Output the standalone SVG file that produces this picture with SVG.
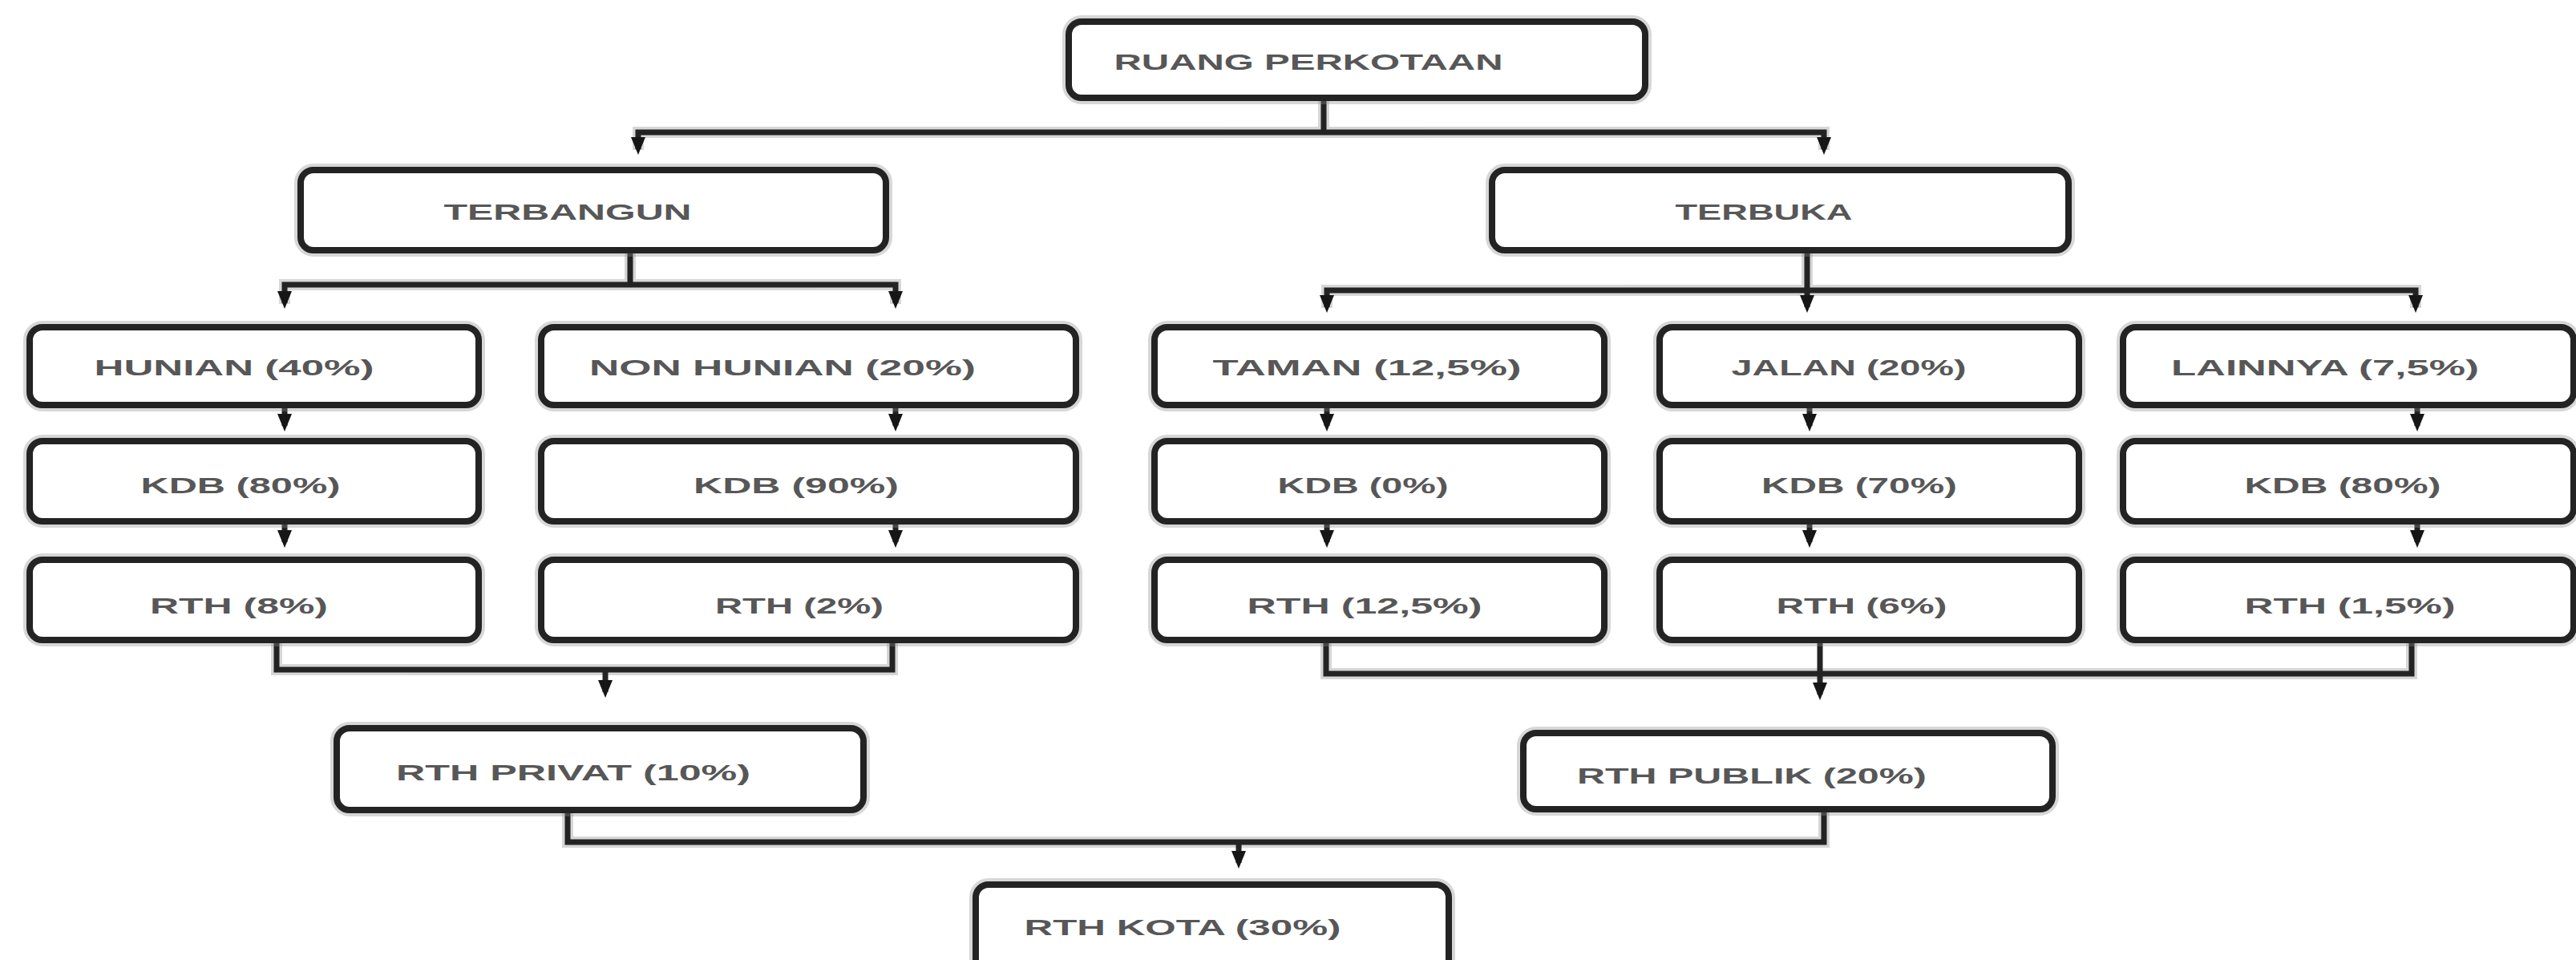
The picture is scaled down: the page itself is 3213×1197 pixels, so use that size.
<svg xmlns="http://www.w3.org/2000/svg" width="3213" height="1197" viewBox="0 0 3213 1197">
<defs>
<style>
.bg{fill:#ffffff}
.halo{fill:none;stroke:#8c8c8c;stroke-width:16;opacity:0.35}
.box{fill:#ffffff;stroke:#232323;stroke-width:8}
.t{font-family:"Liberation Sans",Arial,sans-serif;font-weight:bold;font-size:28px;fill:#575757;text-anchor:middle}
.c{fill:none;stroke:#232323;stroke-width:7}
.ch{fill:none;stroke:#8c8c8c;stroke-width:14;opacity:0.35}
</style>
<marker id="ah" viewBox="0 -10 22 20" markerUnits="userSpaceOnUse" markerWidth="22" markerHeight="20" refX="15" refY="0" orient="auto-start-reverse">
<path d="M0,-9 L22,0 L0,9 Z" fill="#161616"/>
</marker>
</defs>
<rect class="bg" x="0" y="0" width="3213" height="1197"/>

<g id="connectors">
<g class="ch">
<path d="M1651,122 V165"/>
<path d="M796,187 V165 H2275 V187"/>
<path d="M786,312 V355"/>
<path d="M355,379 V355 H1117 V379"/>
<path d="M2254,312 V362"/>
<path d="M1655,384 V362 H3013 V384"/>
<path d="M345,798 V835 H1113 V798"/>
<path d="M1654,798 V840 H3008 V798"/>
<path d="M708,1010 V1050 H2275 V1008"/>
</g>
<path class="c" d="M1651,122 V165"/>
<path class="c" d="M796,186 V165 H2275 V186" marker-start="url(#ah)" marker-end="url(#ah)"/>
<path class="c" d="M786,312 V355"/>
<path class="c" d="M355,378 V355 H1117 V378" marker-start="url(#ah)" marker-end="url(#ah)"/>
<path class="c" d="M2254,312 V362"/>
<path class="c" d="M1655,383 V362 H3013 V383" marker-start="url(#ah)" marker-end="url(#ah)"/>
<path class="c" d="M2254,362 V383" marker-end="url(#ah)"/>
<path class="c" d="M355,505 V531" marker-end="url(#ah)"/>
<path class="c" d="M1117,505 V531" marker-end="url(#ah)"/>
<path class="c" d="M1655,505 V531" marker-end="url(#ah)"/>
<path class="c" d="M2257,505 V531" marker-end="url(#ah)"/>
<path class="c" d="M3015,505 V531" marker-end="url(#ah)"/>
<path class="c" d="M355,650 V676" marker-end="url(#ah)"/>
<path class="c" d="M1117,650 V676" marker-end="url(#ah)"/>
<path class="c" d="M1655,650 V676" marker-end="url(#ah)"/>
<path class="c" d="M2257,650 V676" marker-end="url(#ah)"/>
<path class="c" d="M3015,650 V676" marker-end="url(#ah)"/>
<path class="c" d="M345,798 V835 H1113 V798"/>
<path class="c" d="M755,835 V863" marker-end="url(#ah)"/>
<path class="c" d="M1654,798 V840 H3008 V798"/>
<path class="c" d="M2270,798 V866" marker-end="url(#ah)"/>
<path class="c" d="M708,1010 V1050 H2275 V1008"/>
<path class="c" d="M1545,1050 V1076" marker-end="url(#ah)"/>
</g>

<g id="ruang-perkotaan">
<rect class="halo" x="1333" y="27" width="719" height="95" rx="16"/>
<rect class="box" x="1333" y="27" width="719" height="95" rx="16"/>
<text class="t" x="1632" y="87" textLength="485" lengthAdjust="spacingAndGlyphs">RUANG PERKOTAAN</text>
</g>
<g id="terbangun">
<rect class="halo" x="375" y="212" width="730" height="100" rx="16"/>
<rect class="box" x="375" y="212" width="730" height="100" rx="16"/>
<text class="t" x="708" y="274" textLength="309" lengthAdjust="spacingAndGlyphs">TERBANGUN</text>
</g>
<g id="terbuka">
<rect class="halo" x="1861" y="212" width="719" height="100" rx="16"/>
<rect class="box" x="1861" y="212" width="719" height="100" rx="16"/>
<text class="t" x="2200" y="274" textLength="221" lengthAdjust="spacingAndGlyphs">TERBUKA</text>
</g>

<g id="hunian">
<rect class="halo" x="37" y="408" width="560" height="97" rx="16"/>
<rect class="box" x="37" y="408" width="560" height="97" rx="16"/>
<text class="t" x="292" y="468" textLength="349" lengthAdjust="spacingAndGlyphs">HUNIAN (40%)</text>
</g>
<g id="non-hunian">
<rect class="halo" x="675" y="408" width="667" height="97" rx="16"/>
<rect class="box" x="675" y="408" width="667" height="97" rx="16"/>
<text class="t" x="976" y="468" textLength="482" lengthAdjust="spacingAndGlyphs">NON HUNIAN (20%)</text>
</g>
<g id="taman">
<rect class="halo" x="1440" y="408" width="561" height="97" rx="16"/>
<rect class="box" x="1440" y="408" width="561" height="97" rx="16"/>
<text class="t" x="1705" y="468" textLength="385" lengthAdjust="spacingAndGlyphs">TAMAN (12,5%)</text>
</g>
<g id="jalan">
<rect class="halo" x="2070" y="408" width="523" height="97" rx="16"/>
<rect class="box" x="2070" y="408" width="523" height="97" rx="16"/>
<text class="t" x="2306" y="468" textLength="293" lengthAdjust="spacingAndGlyphs">JALAN (20%)</text>
</g>
<g id="lainnya">
<rect class="halo" x="2648" y="408" width="562" height="97" rx="16"/>
<rect class="box" x="2648" y="408" width="562" height="97" rx="16"/>
<text class="t" x="2900" y="468" textLength="384" lengthAdjust="spacingAndGlyphs">LAINNYA (7,5%)</text>
</g>

<g id="kdb-hunian">
<rect class="halo" x="37" y="550" width="560" height="100" rx="16"/>
<rect class="box" x="37" y="550" width="560" height="100" rx="16"/>
<text class="t" x="300" y="615" textLength="249" lengthAdjust="spacingAndGlyphs">KDB (80%)</text>
</g>
<g id="kdb-non-hunian">
<rect class="halo" x="675" y="550" width="667" height="100" rx="16"/>
<rect class="box" x="675" y="550" width="667" height="100" rx="16"/>
<text class="t" x="993" y="615" textLength="256" lengthAdjust="spacingAndGlyphs">KDB (90%)</text>
</g>
<g id="kdb-taman">
<rect class="halo" x="1440" y="550" width="561" height="100" rx="16"/>
<rect class="box" x="1440" y="550" width="561" height="100" rx="16"/>
<text class="t" x="1700" y="615" textLength="213" lengthAdjust="spacingAndGlyphs">KDB (0%)</text>
</g>
<g id="kdb-jalan">
<rect class="halo" x="2070" y="550" width="523" height="100" rx="16"/>
<rect class="box" x="2070" y="550" width="523" height="100" rx="16"/>
<text class="t" x="2319" y="615" textLength="244" lengthAdjust="spacingAndGlyphs">KDB (70%)</text>
</g>
<g id="kdb-lainnya">
<rect class="halo" x="2648" y="550" width="562" height="100" rx="16"/>
<rect class="box" x="2648" y="550" width="562" height="100" rx="16"/>
<text class="t" x="2922" y="615" textLength="245" lengthAdjust="spacingAndGlyphs">KDB (80%)</text>
</g>

<g id="rth-hunian">
<rect class="halo" x="37" y="698" width="560" height="100" rx="16"/>
<rect class="box" x="37" y="698" width="560" height="100" rx="16"/>
<text class="t" x="298" y="765" textLength="222" lengthAdjust="spacingAndGlyphs">RTH (8%)</text>
</g>
<g id="rth-non-hunian">
<rect class="halo" x="675" y="698" width="667" height="100" rx="16"/>
<rect class="box" x="675" y="698" width="667" height="100" rx="16"/>
<text class="t" x="997" y="765" textLength="210" lengthAdjust="spacingAndGlyphs">RTH (2%)</text>
</g>
<g id="rth-taman">
<rect class="halo" x="1440" y="698" width="561" height="100" rx="16"/>
<rect class="box" x="1440" y="698" width="561" height="100" rx="16"/>
<text class="t" x="1702" y="765" textLength="293" lengthAdjust="spacingAndGlyphs">RTH (12,5%)</text>
</g>
<g id="rth-jalan">
<rect class="halo" x="2070" y="698" width="523" height="100" rx="16"/>
<rect class="box" x="2070" y="698" width="523" height="100" rx="16"/>
<text class="t" x="2322" y="765" textLength="213" lengthAdjust="spacingAndGlyphs">RTH (6%)</text>
</g>
<g id="rth-lainnya">
<rect class="halo" x="2648" y="698" width="562" height="100" rx="16"/>
<rect class="box" x="2648" y="698" width="562" height="100" rx="16"/>
<text class="t" x="2931" y="765" textLength="263" lengthAdjust="spacingAndGlyphs">RTH (1,5%)</text>
</g>

<g id="rth-privat">
<rect class="halo" x="420" y="908" width="657" height="102" rx="16"/>
<rect class="box" x="420" y="908" width="657" height="102" rx="16"/>
<text class="t" x="715" y="973" textLength="442" lengthAdjust="spacingAndGlyphs">RTH PRIVAT (10%)</text>
</g>
<g id="rth-publik">
<rect class="halo" x="1900" y="914" width="660" height="95" rx="16"/>
<rect class="box" x="1900" y="914" width="660" height="95" rx="16"/>
<text class="t" x="2185" y="977" textLength="436" lengthAdjust="spacingAndGlyphs">RTH PUBLIK (20%)</text>
</g>
<g id="rth-kota">
<rect class="halo" x="1217" y="1103" width="590" height="112" rx="16"/>
<rect class="box" x="1217" y="1103" width="590" height="112" rx="16"/>
<text class="t" x="1475" y="1166" textLength="395" lengthAdjust="spacingAndGlyphs">RTH KOTA (30%)</text>
</g>
</svg>
